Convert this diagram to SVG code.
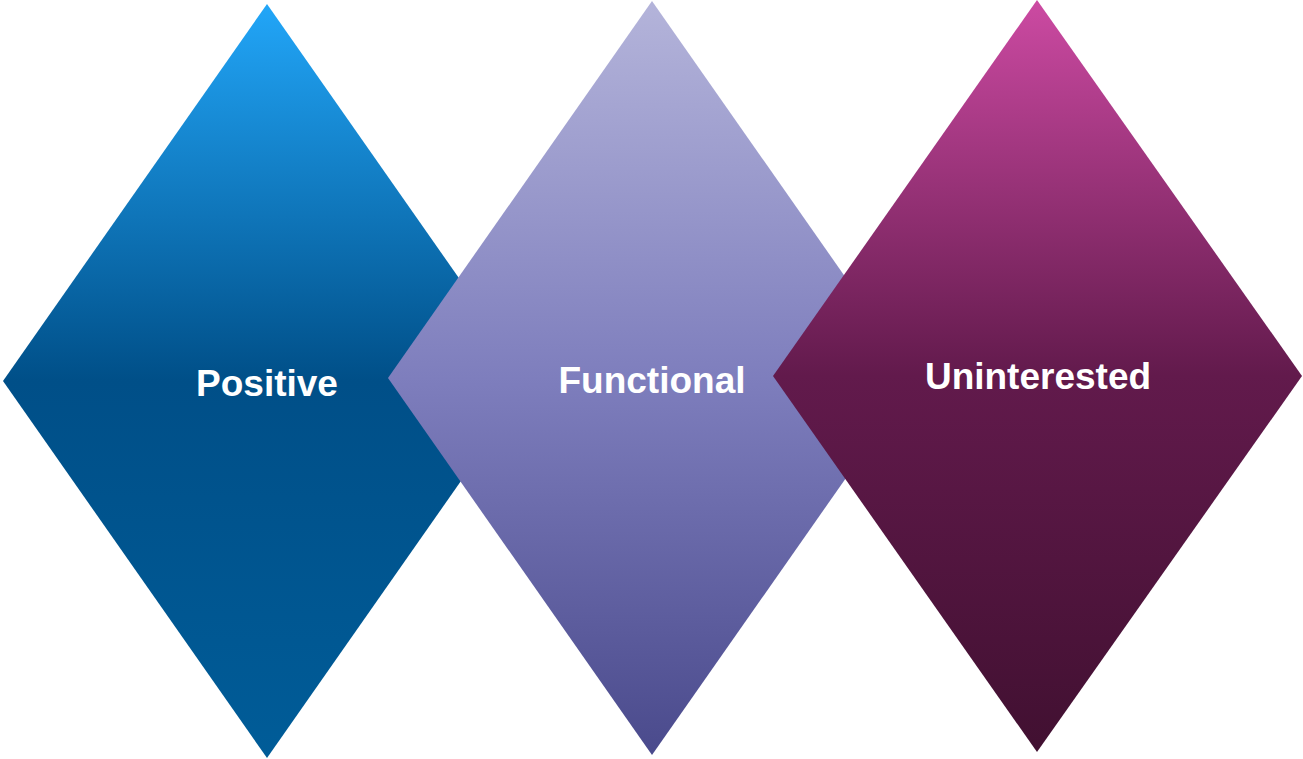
<svg xmlns="http://www.w3.org/2000/svg" width="1303" height="759" viewBox="0 0 1303 759">
<defs>
<linearGradient id="g1" x1="0" y1="0" x2="0" y2="1">
<stop offset="0" stop-color="#22a6f8"/>
<stop offset="0.5" stop-color="#004f88"/>
<stop offset="1" stop-color="#005c98"/>
</linearGradient>
<linearGradient id="g2" x1="0" y1="0" x2="0" y2="1">
<stop offset="0" stop-color="#b4b4da"/>
<stop offset="0.5" stop-color="#7e7ebd"/>
<stop offset="1" stop-color="#4a4a8c"/>
</linearGradient>
<linearGradient id="g3" x1="0" y1="0" x2="0" y2="1">
<stop offset="0" stop-color="#cc4aa2"/>
<stop offset="0.5" stop-color="#621a4c"/>
<stop offset="1" stop-color="#411031"/>
</linearGradient>
</defs>
<style>
.lbl{font-family:"Liberation Sans",Arial,sans-serif;font-weight:bold;font-size:37px;fill:#ffffff;text-anchor:middle}
</style>
<g id="node-positive">
<polygon points="267,4 531,381 267,758 3,381" fill="url(#g1)"/>
<text class="lbl" x="267" y="396">Positive</text>
</g>
<g id="node-functional">
<polygon points="652,1 916,378 652,755 388,378" fill="url(#g2)"/>
<text class="lbl" x="652" y="393">Functional</text>
</g>
<g id="node-uninterested">
<polygon points="1037,0 1302,376 1037,752 773,376" fill="url(#g3)"/>
<text class="lbl" x="1038" y="389">Uninterested</text>
</g>
<g id="connectors"/>
</svg>
